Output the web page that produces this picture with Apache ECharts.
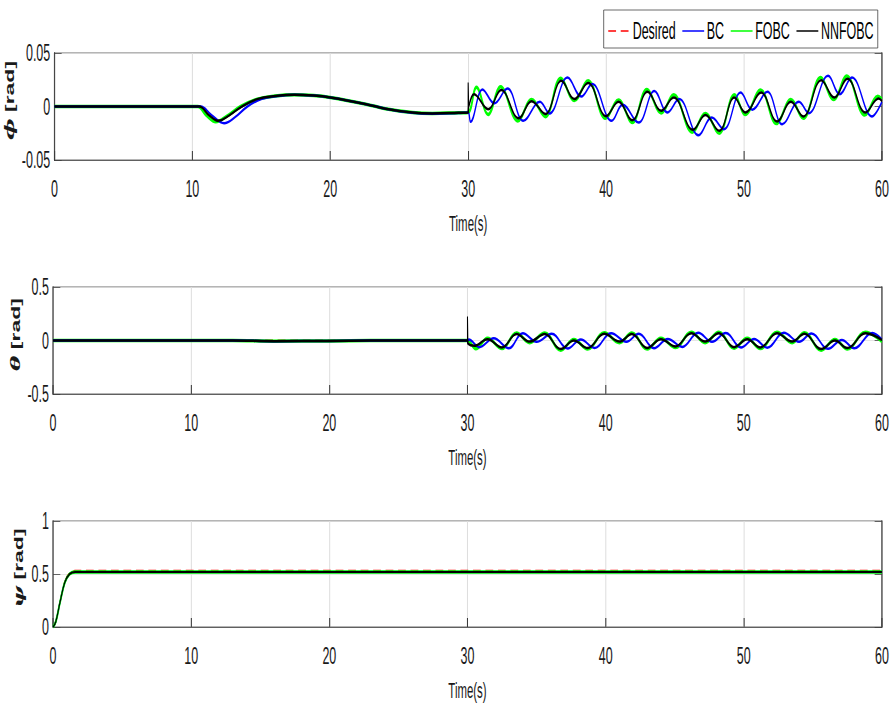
<!DOCTYPE html>
<html>
<head>
<meta charset="utf-8">
<script src="https://cdn.jsdelivr.net/npm/echarts@6/dist/echarts.min.js"></script>
<style>
  html, body { margin: 0; padding: 0; overflow: hidden; background: #fff; }
  /* The figure is laid out wide and squeezed horizontally, giving the narrow lettering */
  #chart { width: 1713px; height: 704px; transform: scaleX(0.52); transform-origin: 0 0; }
</style>
</head>
<body>
<div id="chart"></div>
<script>
// ---- time axis ----
const timeTicks = [0, 10, 20, 30, 40, 50, 60];

// ---- roll angle phi [rad] ----
const phiTicks = [-0.05, 0, 0.05];
const phiDesired = [[0,0],[10.5,0],[11.2,-0.008],[11.9,-0.0134],[12.6,-0.009],[13.6,0],[14.7,0.0069],[16,0.0098],[17.4,0.011],[18.8,0.0102],[20,0.0084],[22.6,0.0022],[24,-0.002],[25.95,-0.0056],[27.4,-0.0065],[29.3,-0.0058],[30,-0.0055]];
const phiBC = [[0,0],[10.6,0],[11.4,-0.008],[12.3,-0.0156],[13.1,-0.01],[14.0,0],[15.0,0.007],[16.2,0.0098],[17.4,0.011],[18.8,0.0102],[20,0.0084],[22.6,0.0022],[24,-0.002],[25.95,-0.0058],[27.4,-0.0067],[29.3,-0.006],[30,-0.0055],
  [30.17,-0.0143],[31.04,0.016],[31.9,0.003],[32.85,0.0168],[34.0,-0.0134],[35.2,0.0044],[35.9,-0.0065],[37.2,0.027],[38.2,0.0093],[39.0,0.021],[40.4,-0.0134],[41.2,0.0016],[42.36,-0.015],[43.5,0.0146],[44.45,-0.0056],[45.3,0.0069],[46.7,-0.0268],[47.66,-0.0103],[48.55,-0.0212],[49.76,0.013],[50.6,-0.003],[51.7,0.0137],[52.77,-0.0165],[53.98,0.0044],[54.7,-0.0062],[56.1,0.0287],[56.94,0.0115],[57.83,0.027],[59.28,-0.0093],[60,0.0044]];
const phiFOBC = [[0,0],[10.4,0],[11.0,-0.008],[11.7,-0.0142],[12.5,-0.009],[13.5,0],[14.7,0.0069],[16,0.0098],[17.4,0.011],[18.8,0.0102],[20,0.0084],[22.6,0.0022],[24,-0.002],[25.95,-0.0056],[27.4,-0.0065],[29.3,-0.0058],[30,-0.0055],
  [30.6,0.018],[31.45,-0.0075],[32.35,0.0185],[33.6,-0.0135],[34.6,0.0065],[35.6,-0.0095],[36.7,0.0265],[37.7,0.0055],[38.7,0.024],[39.95,-0.011],[40.9,0.006],[41.9,-0.015],[42.95,0.016],[44.0,-0.006],[44.9,0.011],[46.25,-0.024],[47.2,-0.0065],[48.2,-0.025],[49.3,0.011],[50.1,-0.0075],[51.2,0.0155],[52.35,-0.016],[53.4,0.0065],[54.3,-0.011],[55.55,0.027],[56.5,0.0065],[57.45,0.0285],[58.75,-0.008],[59.7,0.0095],[60,0.007]];
const phiNNFOBC = [[0,0],[10.5,0],[11.2,-0.008],[11.9,-0.0134],[12.6,-0.009],[13.6,0],[14.7,0.0069],[16,0.0098],[17.4,0.011],[18.8,0.0102],[20,0.0084],[22.6,0.0022],[24,-0.002],[25.95,-0.0056],[27.4,-0.0065],[29.3,-0.0058],[30,-0.0055],
  [30.04,0.0],[30.43,0.0115],[31.45,-0.0025],[32.4,0.0155],[33.66,-0.011],[34.6,0.005],[35.6,-0.007],[36.75,0.024],[37.7,0.007],[38.7,0.022],[40.0,-0.009],[40.9,0.0045],[41.9,-0.0128],[43.0,0.0137],[44.0,-0.004],[44.9,0.0084],[46.3,-0.0218],[47.2,-0.008],[48.2,-0.0227],[49.3,0.0084],[50.1,-0.0056],[51.25,0.013],[52.4,-0.014],[53.4,0.0044],[54.3,-0.0093],[55.6,0.0246],[56.55,0.0084],[57.5,0.026],[58.8,-0.0056],[59.76,0.0075],[60,0.005]];
const phiNNFOBCJump = [[30,-0.0055],[30,0.0224],[30.04,0.0]];

// ---- pitch angle theta [rad] ----
const thetaTicks = [-0.5, 0, 0.5];
const thetaDesired = [[0,0],[30,0]];
const thetaBC = [[0,0],[13,0],[16,-0.006],[20,-0.004],[23,0],[30,0],
  [30.1,0.01],[30.85,-0.062],[31.9,0.02],[33.0,-0.072],[34.0,0.068],[35.0,-0.012],[36.1,0.062],[37.25,-0.075],[38.2,0.01],[39.2,-0.07],[40.4,0.068],[41.5,-0.012],[42.4,0.062],[43.5,-0.072],[44.5,0.015],[45.55,-0.06],[46.7,0.072],[47.7,-0.012],[48.7,0.07],[49.8,-0.066],[50.75,0.015],[51.7,-0.068],[52.9,0.072],[54.0,-0.012],[54.9,0.066],[56.1,-0.078],[57.1,0.005],[58.0,-0.072],[59.3,0.07],[60,0.01]];
const thetaFOBC = [[0,0],[13,0],[16,-0.006],[20,-0.004],[23,0],[30,0],
  [30.6,-0.078],[31.45,0.02],[32.5,-0.075],[33.55,0.07],[34.5,-0.02],[35.6,0.07],[36.75,-0.09],[37.7,0.01],[38.7,-0.08],[39.9,0.072],[41.0,-0.02],[41.9,0.07],[43.0,-0.08],[44.0,0.02],[45.06,-0.066],[46.2,0.078],[47.2,-0.02],[48.2,0.078],[49.3,-0.072],[50.25,0.02],[51.2,-0.075],[52.4,0.078],[53.5,-0.02],[54.4,0.072],[55.6,-0.09],[56.6,0.01],[57.5,-0.08],[58.8,0.078],[60,-0.01]];
const thetaNNFOBC = [[0,0],[13,0],[16,-0.006],[20,-0.004],[23,0],[30,0],
  [30.03,-0.03],[30.5,-0.05],[31.45,0.012],[32.5,-0.065],[33.55,0.06],[34.5,-0.01],[35.6,0.06],[36.75,-0.08],[37.7,0.0],[38.7,-0.07],[39.9,0.062],[41.0,-0.01],[41.9,0.06],[43.0,-0.07],[44.0,0.012],[45.06,-0.056],[46.2,0.068],[47.2,-0.01],[48.2,0.068],[49.3,-0.062],[50.25,0.012],[51.2,-0.065],[52.4,0.068],[53.5,-0.01],[54.4,0.062],[55.6,-0.08],[56.6,0.0],[57.5,-0.07],[58.8,0.068],[60,0.005]];
const thetaNNFOBCJump = [[30,0],[30,0.224],[30.03,-0.03]];

// ---- yaw angle psi [rad] ----
const psiTicks = [0, 0.5, 1];
const psiDesired = [[0,0],[0.2,0.05],[0.5,0.235],[0.85,0.43],[1.2,0.51],[1.6,0.53],[60,0.53]];
const psiBC = [[0,0],[0.2,0.05],[0.5,0.23],[0.85,0.42],[1.2,0.5],[1.6,0.52],[60,0.52]];
const psiFOBC = [[0,0],[0.2,0.05],[0.5,0.23],[0.85,0.42],[1.2,0.5],[1.6,0.52],[60,0.52]];
const psiNNFOBC = [[0,0],[0.2,0.05],[0.5,0.23],[0.85,0.42],[1.2,0.5],[1.6,0.52],[60,0.52]];

const legendNames = ['Desired', 'BC', 'FOBC', 'NNFOBC'];
const yLabelSymbols = ['\u03d5', '\u03b8', '\u03c8'];
const yTicks = [phiTicks, thetaTicks, psiTicks];

const FONT = 'Liberation Sans, Arial, sans-serif';
const TEXT = '#1a1a1a';
const COLORS = { Desired: '#ff0000', BC: '#0000ff', FOBC: '#00ff00', NNFOBC: '#000000' };

const grids = [
  { left: 102, right: 17, top: 53, height: 107 },
  { left: 102, right: 17, top: 287, height: 107 },
  { left: 102, right: 17, top: 521, height: 106 }
].map(g => Object.assign(g, { show: true, borderColor: '#3a3a3a', borderWidth: 1, backgroundColor: '#fff' }));

const xAxes = grids.map((g, i) => ({
  type: 'value', gridIndex: i,
  min: timeTicks[0], max: timeTicks[timeTicks.length - 1], interval: timeTicks[1] - timeTicks[0],
  name: 'Time(s)', nameLocation: 'middle', nameGap: 52,
  nameTextStyle: { fontFamily: FONT, fontSize: 22, color: TEXT },
  axisLine: { show: true, onZero: false, lineStyle: { color: '#3a3a3a', width: 1 } },
  axisTick: { show: true, inside: true, length: 9, lineStyle: { color: '#3a3a3a', width: 2 } },
  axisLabel: { fontFamily: FONT, fontSize: 24, color: TEXT, margin: 17 },
  splitLine: { show: true, lineStyle: { color: '#dedede', width: 2 } }
}));

const yAxesLeft = yTicks.map((t, i) => ({
  type: 'value', gridIndex: i, position: 'left',
  min: t[0], max: t[t.length - 1], interval: t[1] - t[0],
  name: '{g|' + yLabelSymbols[i] + '} [rad]', nameLocation: 'middle', nameGap: 54, nameRotate: 90,
  nameTextStyle: {
    fontFamily: FONT, fontSize: 23, fontWeight: 'bold', color: TEXT, padding: [0, 0, 0, 12],
    rich: { g: { fontFamily: 'DejaVu Serif, serif', fontStyle: 'italic', fontWeight: 'bold', fontSize: 23, color: TEXT } }
  },
  axisLine: { show: true, onZero: false, lineStyle: { color: '#3a3a3a', width: 2 } },
  axisTick: { show: true, inside: true, length: 14, lineStyle: { color: '#3a3a3a', width: 1 } },
  axisLabel: { fontFamily: FONT, fontSize: 24, color: TEXT, margin: 8 },
  splitLine: { show: true, lineStyle: { color: '#dedede', width: 1 } }
}));

const yAxesRight = yTicks.map((t, i) => ({
  type: 'value', gridIndex: i, position: 'right',
  min: t[0], max: t[t.length - 1], interval: t[1] - t[0],
  axisLine: { show: true, onZero: false, lineStyle: { color: '#3a3a3a', width: 2 } },
  axisTick: { show: true, inside: true, length: 14, lineStyle: { color: '#3a3a3a', width: 1 } },
  axisLabel: { show: false },
  splitLine: { show: false }
}));

function line(name, data, panel, opts) {
  const o = opts || {};
  return {
    type: 'line', name, data,
    xAxisIndex: panel, yAxisIndex: panel,
    symbol: 'none', showSymbol: false,
    smooth: o.smooth === undefined ? 0.4 : o.smooth,
    z: o.z || 2,
    lineStyle: { color: COLORS[name], width: o.width || 2.5, type: o.type || 'solid' },
    itemStyle: { color: COLORS[name] },
    emphasis: { disabled: true },
    animation: false
  };
}

const dash = [15, 9];
const series = [
  // phi
  line('Desired', phiDesired, 0, { width: 2, type: dash, z: 1 }),
  line('FOBC', phiFOBC, 0, { width: 3.5, z: 2 }),
  line('BC', phiBC, 0, { width: 2.5, z: 3 }),
  line('NNFOBC', phiNNFOBC, 0, { width: 2.5, z: 4 }),
  line('NNFOBC', phiNNFOBCJump, 0, { width: 2, z: 4, smooth: false }),
  // theta
  line('Desired', thetaDesired, 1, { width: 2, type: dash, z: 1 }),
  line('FOBC', thetaFOBC, 1, { width: 3.5, z: 2 }),
  line('BC', thetaBC, 1, { width: 2.5, z: 3 }),
  line('NNFOBC', thetaNNFOBC, 1, { width: 2.5, z: 4 }),
  line('NNFOBC', thetaNNFOBCJump, 1, { width: 2, z: 4, smooth: false }),
  // psi
  line('Desired', psiDesired, 2, { width: 2, type: dash, z: 1 }),
  line('BC', psiBC, 2, { width: 2.5, z: 2 }),
  line('FOBC', psiFOBC, 2, { width: 3.5, z: 3 }),
  line('NNFOBC', psiNNFOBC, 2, { width: 2, z: 4 })
];

const chart = echarts.init(document.getElementById('chart'), null, { renderer: 'svg' });
chart.setOption({
  backgroundColor: '#fff',
  animation: false,
  grid: grids,
  xAxis: xAxes,
  yAxis: yAxesLeft.concat(yAxesRight),
  legend: {
    data: legendNames,
    right: 25, top: 10,
    orient: 'horizontal',
    itemWidth: 42, itemHeight: 14, itemGap: 12,
    padding: [9, 8, 5, 8],
    borderColor: '#3a3a3a', borderWidth: 1, backgroundColor: '#fff',
    textStyle: { fontFamily: FONT, fontSize: 24, color: '#000' },
    itemStyle: { opacity: 0 },
    lineStyle: { width: 1.5 },
    selectedMode: false
  },
  series
});
</script>
</body>
</html>
